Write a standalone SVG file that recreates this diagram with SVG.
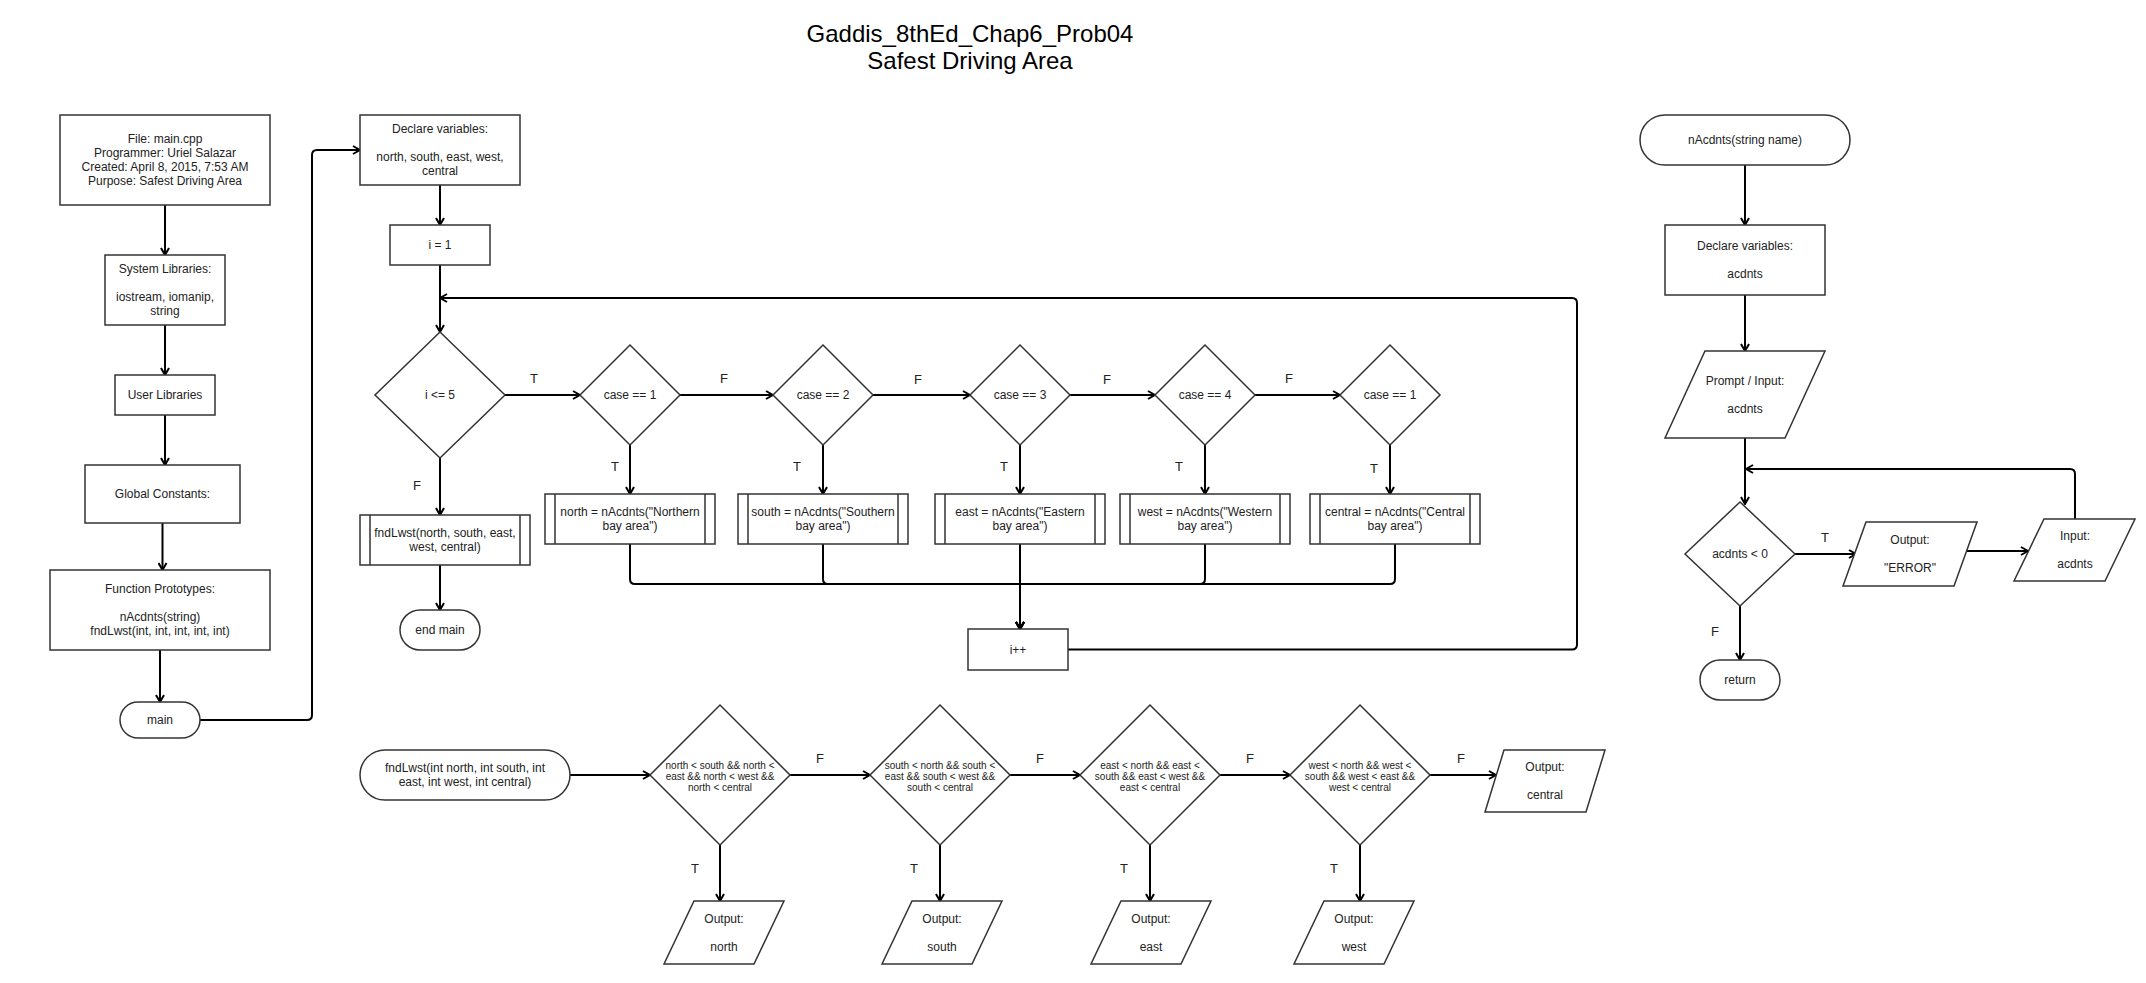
<svg xmlns="http://www.w3.org/2000/svg" width="2146" height="983" viewBox="0 0 2146 983">
<defs>
<marker id="a" viewBox="0 0 10 10" markerWidth="10" markerHeight="10" refX="9" refY="5" orient="auto" markerUnits="userSpaceOnUse">
<path d="M2,1 L9,5 L2,9" fill="none" stroke="#000" stroke-width="2"/>
</marker>
<style>
.s{fill:#fff;stroke:#333;stroke-width:1.5}
.e{fill:none;stroke:#000;stroke-width:2;marker-end:url(#a)}
text{font-family:"Liberation Sans",Arial,sans-serif;font-size:12px;fill:#222;text-anchor:middle}
.sm{font-size:10px}
.lb{font-size:13px;fill:#222}
.ti{font-size:24px;fill:#000}
</style>
</defs>
<rect width="2146" height="983" fill="#fff"/>
<g id="title">
<text class="ti" x="970" y="42">Gaddis_8thEd_Chap6_Prob04</text>
<text class="ti" x="970" y="69">Safest Driving Area</text>
</g>
<g id="connectors">
<path class="e" d="M165,205 L165,255"/>
<path class="e" d="M165,325 L165,375"/>
<path class="e" d="M165,415 L165,465"/>
<path class="e" d="M162.5,523 L162.5,570"/>
<path class="e" d="M160,650 L160,702"/>
<path class="e" d="M200,720 L307,720 Q312,720 312,715 L312,155 Q312,150 317,150 L360,150"/>
<path class="e" d="M440,185 L440,225"/>
<path class="e" d="M440,265 L440,332"/>
<path class="e" d="M1068,649.5 L1572,649.5 Q1577,649.5 1577,644.5 L1577,303 Q1577,298 1572,298 L440,298"/>
<path class="e" d="M505,395 L580,395"/>
<path class="e" d="M680,395 L773,395"/>
<path class="e" d="M873,395 L970,395"/>
<path class="e" d="M1070,395 L1155,395"/>
<path class="e" d="M1255,395 L1340,395"/>
<path class="e" d="M630,445 L630,494"/>
<path class="e" d="M823,445 L823,494"/>
<path class="e" d="M1020,445 L1020,494"/>
<path class="e" d="M1205,445 L1205,494"/>
<path class="e" d="M1390,445 L1390,494"/>
<path class="e" d="M630,544 L630,579 Q630,584 635,584 L1020,584 L1020,629"/>
<path class="e" d="M823,544 L823,579 Q823,584 828,584 L1020,584 L1020,629"/>
<path class="e" d="M1020,544 L1020,629"/>
<path class="e" d="M1205,544 L1205,579 Q1205,584 1200,584 L1020,584 L1020,629"/>
<path class="e" d="M1395,544 L1395,579 Q1395,584 1390,584 L1020,584 L1020,629"/>
<path class="e" d="M440,458 L440,515"/>
<path class="e" d="M440,565 L440,610"/>
<path class="e" d="M1745,165 L1745,225"/>
<path class="e" d="M1745,295 L1745,351"/>
<path class="e" d="M1745,438 L1745,504"/>
<path class="e" d="M2075,519 L2075,474 Q2075,469 2070,469 L1746,469"/>
<path class="e" d="M1795,554 L1856,554"/>
<path class="e" d="M1964,551 L2028,551"/>
<path class="e" d="M1740,606 L1740,660"/>
<path class="e" d="M570,775 L650,775"/>
<path class="e" d="M790,775 L870,775"/>
<path class="e" d="M1010,775 L1080,775"/>
<path class="e" d="M1220,775 L1290,775"/>
<path class="e" d="M1430,775 L1496,775"/>
<path class="e" d="M720,845 L720,901"/>
<path class="e" d="M940,845 L940,901"/>
<path class="e" d="M1150,845 L1150,901"/>
<path class="e" d="M1360,845 L1360,901"/>
<text class="lb" x="534" y="383">T</text>
<text class="lb" x="724" y="383">F</text>
<text class="lb" x="918" y="384">F</text>
<text class="lb" x="1107" y="384">F</text>
<text class="lb" x="1289" y="383">F</text>
<text class="lb" x="615" y="471">T</text>
<text class="lb" x="797" y="471">T</text>
<text class="lb" x="1004" y="471">T</text>
<text class="lb" x="1179" y="471">T</text>
<text class="lb" x="1374" y="473">T</text>
<text class="lb" x="417" y="490">F</text>
<text class="lb" x="1825" y="542">T</text>
<text class="lb" x="1715" y="636">F</text>
<text class="lb" x="820" y="763">F</text>
<text class="lb" x="1040" y="763">F</text>
<text class="lb" x="1250" y="763">F</text>
<text class="lb" x="1461" y="763">F</text>
<text class="lb" x="695" y="873">T</text>
<text class="lb" x="914" y="873">T</text>
<text class="lb" x="1124" y="873">T</text>
<text class="lb" x="1334" y="873">T</text>
</g>
<g id="file">
<rect class="s" x="60" y="115" width="210" height="90"/>
<text x="165" y="143">File: main.cpp</text>
<text x="165" y="157">Programmer: Uriel Salazar</text>
<text x="165" y="171">Created: April 8, 2015, 7:53 AM</text>
<text x="165" y="185">Purpose: Safest Driving Area</text>
</g>
<g id="syslib">
<rect class="s" x="105" y="255" width="120" height="70"/>
<text x="165" y="273">System Libraries:</text>
<text x="165" y="301">iostream, iomanip,</text>
<text x="165" y="315">string</text>
</g>
<g id="userlib">
<rect class="s" x="115" y="375" width="100" height="40"/>
<text x="165" y="399">User Libraries</text>
</g>
<g id="global">
<rect class="s" x="85" y="465" width="155" height="58"/>
<text x="162.5" y="498">Global Constants:</text>
</g>
<g id="protos">
<rect class="s" x="50" y="570" width="220" height="80"/>
<text x="160" y="593">Function Prototypes:</text>
<text x="160" y="621">nAcdnts(string)</text>
<text x="160" y="635">fndLwst(int, int, int, int, int)</text>
</g>
<g id="main">
<rect class="s" x="120" y="702" width="80" height="36" rx="18"/>
<text x="160" y="724">main</text>
</g>
<g id="declare">
<rect class="s" x="360" y="115" width="160" height="70"/>
<text x="440" y="133">Declare variables:</text>
<text x="440" y="161">north, south, east, west,</text>
<text x="440" y="175">central</text>
</g>
<g id="init">
<rect class="s" x="390" y="225" width="100" height="40"/>
<text x="440" y="249">i = 1</text>
</g>
<g id="loopcond">
<polygon class="s" points="440,332 505,395 440,458 375,395"/>
<text x="440" y="399">i &lt;= 5</text>
</g>
<g id="case1">
<polygon class="s" points="630,345 680,395 630,445 580,395"/>
<text x="630" y="399">case == 1</text>
</g>
<g id="case2">
<polygon class="s" points="823,345 873,395 823,445 773,395"/>
<text x="823" y="399">case == 2</text>
</g>
<g id="case3">
<polygon class="s" points="1020,345 1070,395 1020,445 970,395"/>
<text x="1020" y="399">case == 3</text>
</g>
<g id="case4">
<polygon class="s" points="1205,345 1255,395 1205,445 1155,395"/>
<text x="1205" y="399">case == 4</text>
</g>
<g id="case5">
<polygon class="s" points="1390,345 1440,395 1390,445 1340,395"/>
<text x="1390" y="399">case == 1</text>
</g>
<g id="northcall">
<rect class="s" x="545" y="494" width="170" height="50"/>
<path class="s" d="M555,494 V544 M705,494 V544"/>
<text x="630" y="516">north = nAcdnts("Northern</text>
<text x="630" y="530">bay area")</text>
</g>
<g id="southcall">
<rect class="s" x="738" y="494" width="170" height="50"/>
<path class="s" d="M748,494 V544 M898,494 V544"/>
<text x="823" y="516">south = nAcdnts("Southern</text>
<text x="823" y="530">bay area")</text>
</g>
<g id="eastcall">
<rect class="s" x="935" y="494" width="170" height="50"/>
<path class="s" d="M945,494 V544 M1095,494 V544"/>
<text x="1020" y="516">east = nAcdnts("Eastern</text>
<text x="1020" y="530">bay area")</text>
</g>
<g id="westcall">
<rect class="s" x="1120" y="494" width="170" height="50"/>
<path class="s" d="M1130,494 V544 M1280,494 V544"/>
<text x="1205" y="516">west = nAcdnts("Western</text>
<text x="1205" y="530">bay area")</text>
</g>
<g id="centralcall">
<rect class="s" x="1310" y="494" width="170" height="50"/>
<path class="s" d="M1320,494 V544 M1470,494 V544"/>
<text x="1395" y="516">central = nAcdnts("Central</text>
<text x="1395" y="530">bay area")</text>
</g>
<g id="incr">
<rect class="s" x="968" y="629" width="100" height="41"/>
<text x="1018" y="653.5">i++</text>
</g>
<g id="callfnd">
<rect class="s" x="360" y="515" width="170" height="50"/>
<path class="s" d="M370,515 V565 M520,515 V565"/>
<text x="445" y="537">fndLwst(north, south, east,</text>
<text x="445" y="551">west, central)</text>
</g>
<g id="endmain">
<rect class="s" x="400" y="610" width="80" height="40" rx="20"/>
<text x="440" y="634">end main</text>
</g>
<g id="nacdnts">
<rect class="s" x="1640" y="115" width="210" height="50" rx="25"/>
<text x="1745" y="144">nAcdnts(string name)</text>
</g>
<g id="declare2">
<rect class="s" x="1665" y="225" width="160" height="70"/>
<text x="1745" y="250">Declare variables:</text>
<text x="1745" y="278">acdnts</text>
</g>
<g id="prompt">
<polygon class="s" points="1705,351 1825,351 1785,438 1665,438"/>
<text x="1745" y="385">Prompt / Input:</text>
<text x="1745" y="413">acdnts</text>
</g>
<g id="check">
<polygon class="s" points="1740,502 1795,554 1740,606 1685,554"/>
<text x="1740" y="558">acdnts &lt; 0</text>
</g>
<g id="error">
<polygon class="s" points="1866,522 1977,522 1954,586 1843,586"/>
<text x="1910" y="544">Output:</text>
<text x="1910" y="572">"ERROR"</text>
</g>
<g id="reinput">
<polygon class="s" points="2044,519 2135,519 2105,581 2014,581"/>
<text x="2075" y="540">Input:</text>
<text x="2075" y="568">acdnts</text>
</g>
<g id="return">
<rect class="s" x="1700" y="660" width="80" height="40" rx="20"/>
<text x="1740" y="684">return</text>
</g>
<g id="fndlwst">
<rect class="s" x="360" y="750" width="210" height="50" rx="25"/>
<text x="465" y="772">fndLwst(int north, int south, int</text>
<text x="465" y="786">east, int west, int central)</text>
</g>
<g id="d1">
<polygon class="s" points="720,705 790,775 720,845 650,775"/>
<text class="sm" x="720" y="768.5">north &lt; south &amp;&amp; north &lt;</text>
<text class="sm" x="720" y="779.5">east &amp;&amp; north &lt; west &amp;&amp;</text>
<text class="sm" x="720" y="790.5">north &lt; central</text>
</g>
<g id="d2">
<polygon class="s" points="940,705 1010,775 940,845 870,775"/>
<text class="sm" x="940" y="768.5">south &lt; north &amp;&amp; south &lt;</text>
<text class="sm" x="940" y="779.5">east &amp;&amp; south &lt; west &amp;&amp;</text>
<text class="sm" x="940" y="790.5">south &lt; central</text>
</g>
<g id="d3">
<polygon class="s" points="1150,705 1220,775 1150,845 1080,775"/>
<text class="sm" x="1150" y="768.5">east &lt; north &amp;&amp; east &lt;</text>
<text class="sm" x="1150" y="779.5">south &amp;&amp; east &lt; west &amp;&amp;</text>
<text class="sm" x="1150" y="790.5">east &lt; central</text>
</g>
<g id="d4">
<polygon class="s" points="1360,705 1430,775 1360,845 1290,775"/>
<text class="sm" x="1360" y="768.5">west &lt; north &amp;&amp; west &lt;</text>
<text class="sm" x="1360" y="779.5">south &amp;&amp; west &lt; east &amp;&amp;</text>
<text class="sm" x="1360" y="790.5">west &lt; central</text>
</g>
<g id="outnorth">
<polygon class="s" points="694,901 784,901 754,964 664,964"/>
<text x="724" y="923">Output:</text>
<text x="724" y="951">north</text>
</g>
<g id="outsouth">
<polygon class="s" points="912,901 1002,901 972,964 882,964"/>
<text x="942" y="923">Output:</text>
<text x="942" y="951">south</text>
</g>
<g id="outeast">
<polygon class="s" points="1121,901 1211,901 1181,964 1091,964"/>
<text x="1151" y="923">Output:</text>
<text x="1151" y="951">east</text>
</g>
<g id="outwest">
<polygon class="s" points="1324,901 1414,901 1384,964 1294,964"/>
<text x="1354" y="923">Output:</text>
<text x="1354" y="951">west</text>
</g>
<g id="outcentral">
<polygon class="s" points="1504,750 1605,750 1586,812 1485,812"/>
<text x="1545" y="771">Output:</text>
<text x="1545" y="799">central</text>
</g>
</svg>
